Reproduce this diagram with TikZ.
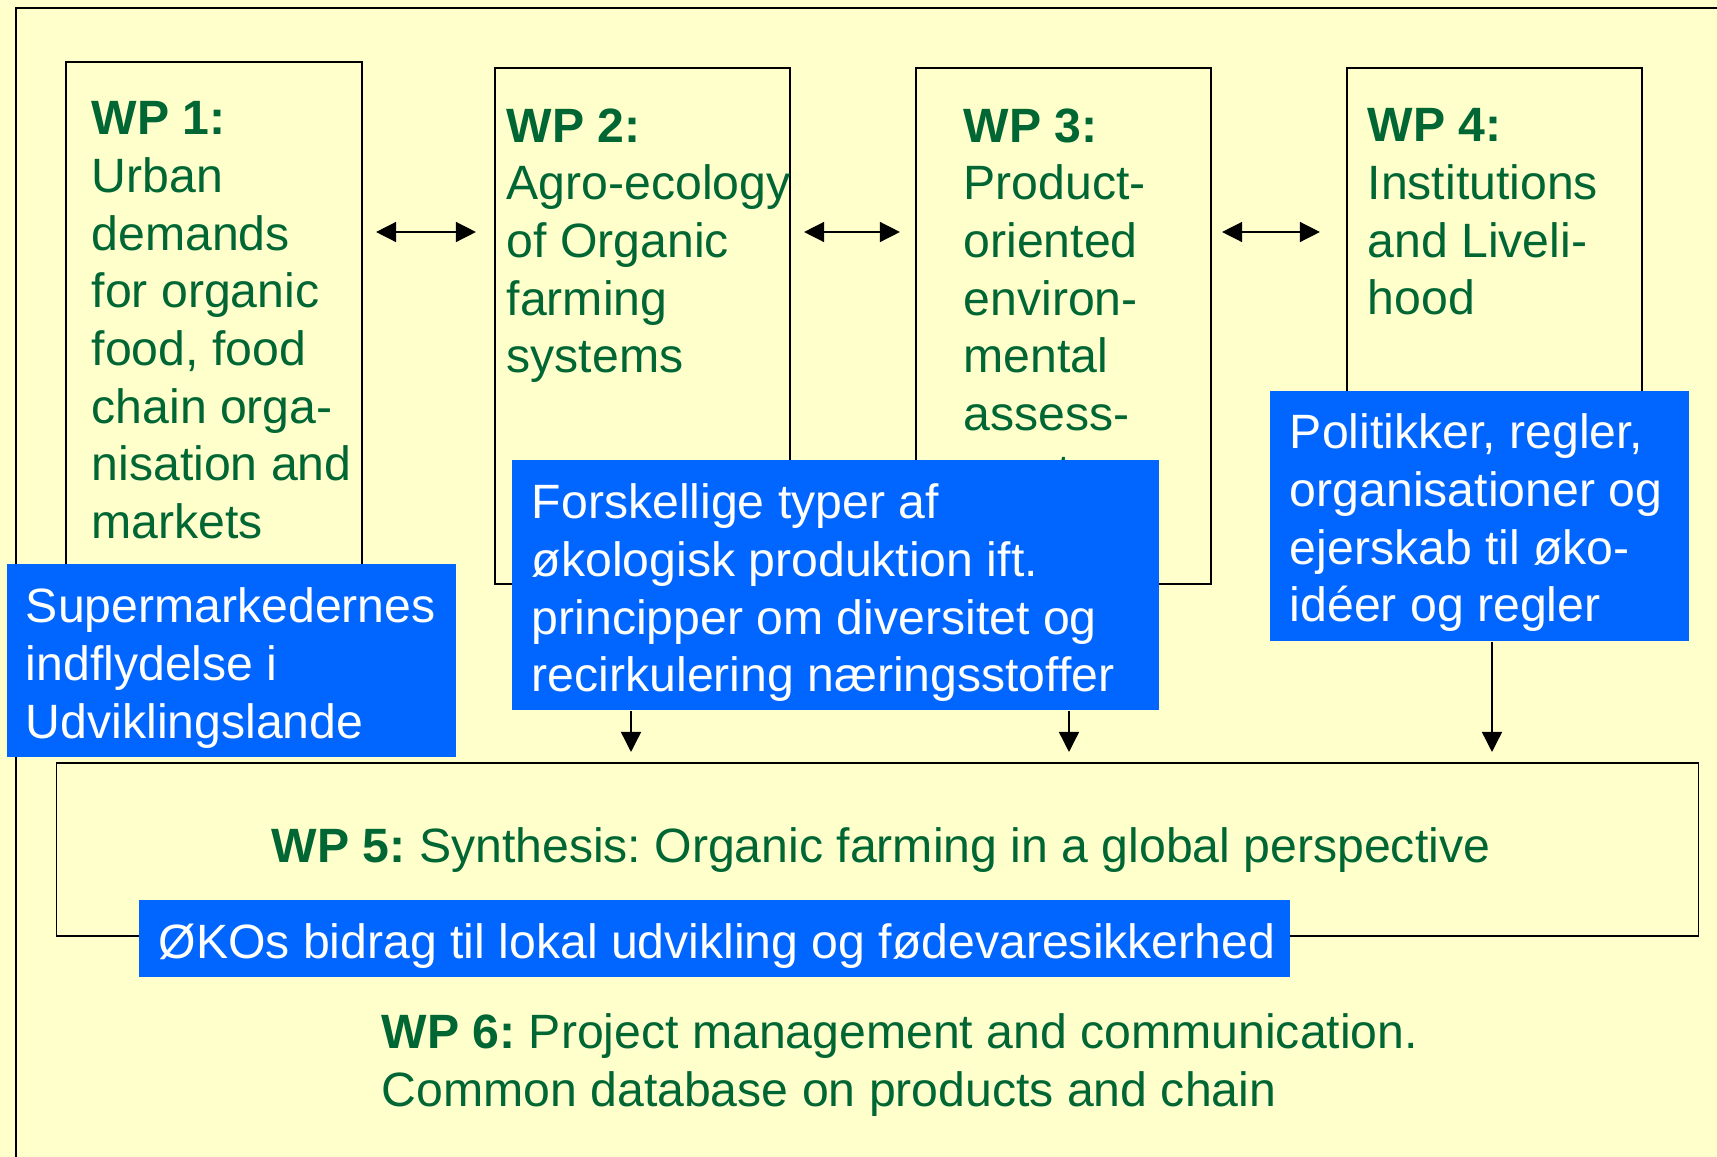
\documentclass[tikz,border=0pt]{standalone}
\usepackage{fontspec}
\setmainfont{Liberation Sans}
\usetikzlibrary{arrows.meta,positioning}
\definecolor{wpgreen}{RGB}{0,102,51}
\definecolor{wpblue}{RGB}{0,102,255}
\definecolor{wpback}{RGB}{255,255,204}
\newcommand{\wpfont}{\fontsize{13.7}{16.4}\selectfont\frenchspacing}

\begin{document}
\begin{tikzpicture}[x=0.01cm,y=-0.01cm,
    wpbox/.style={draw=black, line width=0.55pt, inner sep=0pt, minimum width=2.95cm, minimum height=5.16cm},
    wptext/.style={text=wpgreen, font=\wpfont, align=left, inner sep=0pt, anchor=north west},
    bluebox/.style={fill=wpblue, inner sep=0pt},
    bluetext/.style={text=white, font=\wpfont, align=left, inner sep=0pt, anchor=north west},
    link/.style={{Triangle[length=0.2cm,width=0.2cm]}-{Triangle[length=0.2cm,width=0.2cm]}, line width=0.4pt},
    feed/.style={-{Triangle[length=0.2cm,width=0.2cm]}, line width=0.4pt, shorten >=0.1cm}]

  % Page and outer frame
  \useasboundingbox (0,0) rectangle (1717,1157);
  \fill[wpback] (0,0) rectangle (1717,1157);
  \draw[line width=0.55pt] (1717,8) -- (16,8) -- (16,1157);

  % Work package boxes
  \node[wpbox, minimum width=2.96cm, minimum height=5.22cm] (wp1) at (214,323) {};
  \node[wpbox] (wp2) at (642.5,326) {};
  \node[wpbox] (wp3) at (1063.5,326) {};
  \node[wpbox] (wp4) at (1494.5,326) {};

  \node[wptext] (wp1text) at ([shift={(26,40)}]wp1.north west)
    {\textbf{WP 1:}\\Urban\\demands\\for organic\\food, food\\chain orga-\\nisation and\\markets};
  \node[wptext] (wp2text) at ([shift={(12,41)}]wp2.north west)
    {\textbf{WP 2:}\\Agro-ecology\\of Organic\\farming\\systems};
  \node[wptext] (wp3text) at ([shift={(48,41)}]wp3.north west)
    {\textbf{WP 3:}\\Product-\\oriented\\environ-\\mental\\assess-\\ment};
  \node[wptext] (wp4text) at ([shift={(21,41)}]wp4.north west)
    {\textbf{WP 4:}\\Institutions\\and Liveli-\\hood};

  % Links between the work packages
  \coordinate (row) at (0,232);
  \draw[link, shorten <=0.13cm, shorten >=0.18cm] (wp1.east |- row) -- (wp2.west |- row);
  \draw[link, shorten <=0.13cm, shorten >=0.15cm] (wp2.east |- row) -- (wp3.west |- row);
  \draw[link, shorten <=0.10cm, shorten >=0.26cm] (wp3.east |- row) -- (wp4.west |- row);

  % Blue notes
  \node[bluebox, minimum width=4.49cm, minimum height=1.93cm] (sup) at (231.5,660.5) {};
  \node[bluetext] at ([shift={(19,24)}]sup.north west)
    {Supermarkedernes\\indflydelse i\\Udviklingslande};
  \node[bluebox, minimum width=6.47cm, minimum height=2.50cm] (fors) at (835.5,585) {};
  \node[bluetext] at ([shift={(20,24)}]fors.north west)
    {Forskellige typer af\\økologisk produktion ift.\\principper om diversitet og\\recirkulering næringsstoffer};
  \node[bluebox, minimum width=4.19cm, minimum height=2.50cm] (pol) at (1479.5,516) {};
  \node[bluetext] at ([shift={(20,23)}]pol.north west)
    {Politikker, regler,\\organisationer og\\ejerskab til øko-\\idéer og regler};

  % Synthesis box
  \node[wpbox, minimum width=16.41cm, minimum height=1.73cm] (wp5) at (877.5,849.5) {};
  \node[wptext, anchor=base] (wp5text) at (881,862)
    {\textbf{WP 5:} Synthesis: Organic farming in a global perspective};

  % Arrows down into WP 5
  \coordinate (d2) at (631,0);
  \coordinate (d3) at (1069,0);
  \coordinate (d4) at (1492,0);
  \draw[feed] (fors.south -| d2) -- (wp5.north -| d2);
  \draw[feed] (fors.south -| d3) -- (wp5.north -| d3);
  \draw[feed] (pol.south -| d4) -- (wp5.north -| d4);

  \node[bluebox, minimum width=11.51cm, minimum height=0.77cm] (oko) at (714.5,938.5) {};
  \node[bluetext] at ([shift={(20,24)}]oko.north west)
    {ØKOs bidrag til lokal udvikling og fødevaresikkerhed};

  % Project management
  \node[wptext] (wp6text) at (381,1013)
    {\textbf{WP 6:} Project management and communication.\\Common database on products and chain};
\end{tikzpicture}
\end{document}
